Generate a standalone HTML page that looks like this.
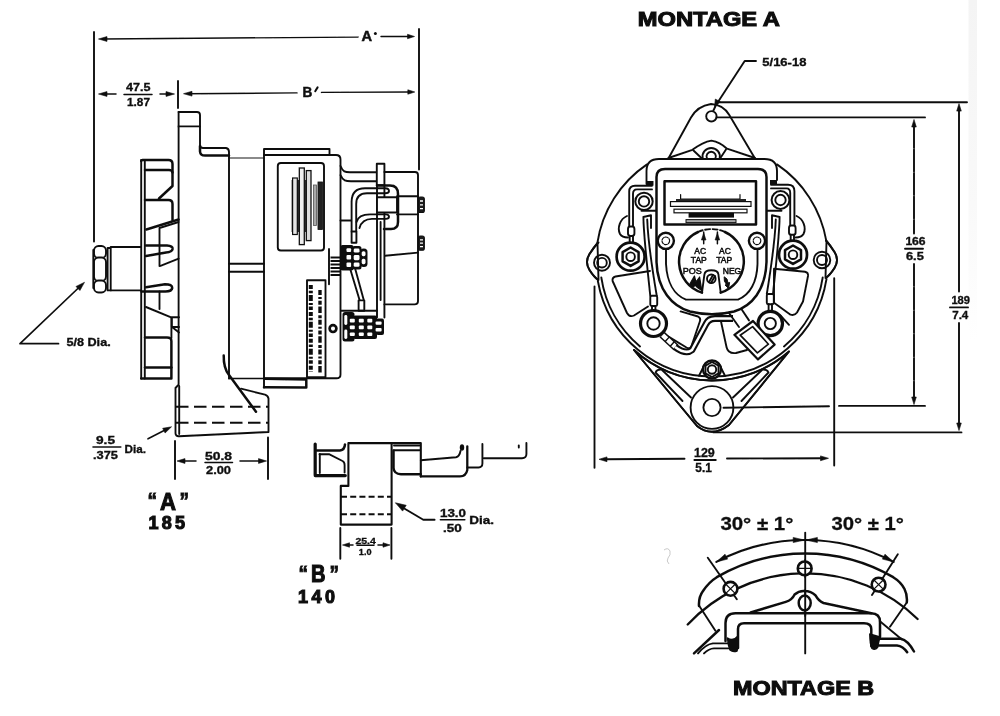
<!DOCTYPE html>
<html>
<head>
<meta charset="utf-8">
<title>Alternator mounting dimensions</title>
<style>
html,body{margin:0;padding:0;background:#fff;}
body{width:1000px;height:716px;overflow:hidden;font-family:"Liberation Sans",sans-serif;}
svg{display:block;position:absolute;left:0;top:0;}
svg text{font-family:"Liberation Sans",sans-serif;fill:#111;}
.l{fill:none;stroke:#111;stroke-width:1.9;stroke-linecap:round;stroke-linejoin:round;}
.t{fill:none;stroke:#111;stroke-width:1.2;stroke-linecap:round;stroke-linejoin:round;}
.h{fill:none;stroke:#111;stroke-width:2.5;stroke-linecap:round;stroke-linejoin:round;}
.w{fill:#fff;stroke:#111;stroke-width:1.9;stroke-linejoin:round;}
.k{fill:#111;stroke:#111;stroke-width:0.6;stroke-linejoin:round;}
.d{fill:none;stroke:#111;stroke-width:1.9;stroke-dasharray:7 3.5;}
.a{fill:none;stroke:#111;stroke-width:1.45;stroke-linecap:round;}
.b{font-weight:bold;}
</style>
</head>
<body>
<svg width="1000" height="716" viewBox="0 0 1000 716">
<rect x="0" y="0" width="1000" height="716" fill="#fff"/>
<defs><filter id="soft" filterUnits="userSpaceOnUse" x="0" y="0" width="1000" height="716"><feGaussianBlur stdDeviation="0.45"/></filter><linearGradient id="sg" x1="0" y1="0" x2="0" y2="1"><stop offset="0" stop-color="#f4f4f4"/><stop offset="0.6" stop-color="#f9f9f9"/><stop offset="1" stop-color="#ffffff"/></linearGradient></defs>
<rect x="968.5" y="0" width="8.5" height="340" fill="url(#sg)"/>

<!-- ================= TEXT LABELS ================= -->
<g filter="url(#soft)">
<g id="labels">
<text class="b" x="637.8" y="25.9" font-size="19.3" textLength="142.2" lengthAdjust="spacingAndGlyphs" stroke="#111" stroke-width="1.00">MONTAGE A</text>
<text class="b" x="733.0" y="695.4" font-size="19.3" textLength="141.2" lengthAdjust="spacingAndGlyphs" stroke="#111" stroke-width="1.00">MONTAGE B</text>
<text class="b" x="762.3" y="65.9" font-size="11.2" textLength="44.1" lengthAdjust="spacingAndGlyphs" stroke="#111" stroke-width="0.35">5/16-18</text>
<text class="b" x="66.4" y="346.3" font-size="11.2" textLength="44.3" lengthAdjust="spacingAndGlyphs" stroke="#111" stroke-width="0.35">5/8 Dia.</text>
<text class="b" x="361.4" y="40.7" font-size="14" textLength="10.6" lengthAdjust="spacingAndGlyphs" stroke="#111" stroke-width="0.5">A</text><circle cx="375.4" cy="33.4" r="1.5" fill="#111"/>
<text class="b" x="302.6" y="97.4" font-size="14" textLength="9.8" lengthAdjust="spacingAndGlyphs" stroke="#111" stroke-width="0.5">B</text><path d="M317.6 87.4L315.2 91.2" stroke="#111" stroke-width="2" stroke-linecap="round"/>
<text class="b" x="126.0" y="90.5" font-size="11.6" textLength="24.5" lengthAdjust="spacingAndGlyphs" stroke="#111" stroke-width="0.35">47.5</text>
<text class="b" x="127.0" y="105.5" font-size="11.2" textLength="23.0" lengthAdjust="spacingAndGlyphs" stroke="#111" stroke-width="0.35">1.87</text>
<text class="b" x="205.0" y="459.5" font-size="10.6" textLength="27.0" lengthAdjust="spacingAndGlyphs" stroke="#111" stroke-width="0.35">50.8</text>
<text class="b" x="206.0" y="474.4" font-size="10.8" textLength="25.0" lengthAdjust="spacingAndGlyphs" stroke="#111" stroke-width="0.35">2.00</text>
<text class="b" x="96.0" y="444.2" font-size="10.2" textLength="19.0" lengthAdjust="spacingAndGlyphs" stroke="#111" stroke-width="0.35">9.5</text>
<text class="b" x="93.0" y="459.0" font-size="10.8" textLength="25.0" lengthAdjust="spacingAndGlyphs" stroke="#111" stroke-width="0.35">.375</text>
<text class="b" x="124.6" y="452.6" font-size="11.0" textLength="21.4" lengthAdjust="spacingAndGlyphs" stroke="#111" stroke-width="0.35">Dia.</text>
<text class="b" x="440.0" y="517.0" font-size="10.6" textLength="26.0" lengthAdjust="spacingAndGlyphs" stroke="#111" stroke-width="0.35">13.0</text>
<text class="b" x="443.0" y="531.5" font-size="10.4" textLength="18.7" lengthAdjust="spacingAndGlyphs" stroke="#111" stroke-width="0.35">.50</text>
<text class="b" x="469.3" y="524.2" font-size="11.0" textLength="24.7" lengthAdjust="spacingAndGlyphs" stroke="#111" stroke-width="0.35">Dia.</text>
<text class="b" x="355.4" y="543.5" font-size="8.6" textLength="20.4" lengthAdjust="spacingAndGlyphs" stroke="#111" stroke-width="0.30">25.4</text>
<text class="b" x="358.8" y="555.4" font-size="9.0" textLength="12.7" lengthAdjust="spacingAndGlyphs" stroke="#111" stroke-width="0.30">1.0</text>
<text class="b" x="694.0" y="456.5" font-size="12.0" textLength="20.8" lengthAdjust="spacingAndGlyphs" stroke="#111" stroke-width="0.35">129</text>
<text class="b" x="695.3" y="471.8" font-size="12.0" textLength="16.5" lengthAdjust="spacingAndGlyphs" stroke="#111" stroke-width="0.35">5.1</text>
<text class="b" x="905.4" y="245.0" font-size="11.0" textLength="20.2" lengthAdjust="spacingAndGlyphs" stroke="#111" stroke-width="0.35">166</text>
<text class="b" x="906.0" y="259.6" font-size="11.0" textLength="17.8" lengthAdjust="spacingAndGlyphs" stroke="#111" stroke-width="0.35">6.5</text>
<text class="b" x="951.4" y="303.6" font-size="11.0" textLength="18.6" lengthAdjust="spacingAndGlyphs" stroke="#111" stroke-width="0.35">189</text>
<text class="b" x="952.2" y="319.0" font-size="11.0" textLength="16.1" lengthAdjust="spacingAndGlyphs" stroke="#111" stroke-width="0.35">7.4</text>
<text class="b" x="147.5" y="508.0" font-size="22.0" textLength="9.5" lengthAdjust="spacingAndGlyphs" stroke="#111" stroke-width="0.9">“</text>
<text class="b" x="179.5" y="508.0" font-size="22.0" textLength="9.5" lengthAdjust="spacingAndGlyphs" stroke="#111" stroke-width="0.9">”</text>
<text class="b" x="160.0" y="509.5" font-size="24.0" textLength="16.0" lengthAdjust="spacingAndGlyphs" stroke="#111" stroke-width="1.10">A</text>
<text class="b" x="148.5" y="529.0" font-size="18.0" textLength="36.5" lengthAdjust="spacing" stroke="#111" stroke-width="1.10">185</text>
<text class="b" x="298.5" y="580.5" font-size="22.0" textLength="9.5" lengthAdjust="spacingAndGlyphs" stroke="#111" stroke-width="0.9">“</text>
<text class="b" x="329.5" y="580.5" font-size="22.0" textLength="9.5" lengthAdjust="spacingAndGlyphs" stroke="#111" stroke-width="0.9">”</text>
<text class="b" x="311.0" y="581.5" font-size="23.5" textLength="14.5" lengthAdjust="spacingAndGlyphs" stroke="#111" stroke-width="1.10">B</text>
<text class="b" x="298.0" y="602.5" font-size="18.0" textLength="37.0" lengthAdjust="spacing" stroke="#111" stroke-width="1.10">140</text>
<text class="b" x="720.4" y="529.7" font-size="18.4" textLength="73.0" lengthAdjust="spacingAndGlyphs" stroke="#111" stroke-width="0.30">30° ± 1°</text>
<text class="b" x="831.4" y="529.6" font-size="18.4" textLength="72.4" lengthAdjust="spacingAndGlyphs" stroke="#111" stroke-width="0.30">30° ± 1°</text>
</g>

<!-- ================= DIMENSION LINES (LEFT) ================= -->
<g id="dimsL">
<path class="l" d="M94 32V241.5"/>
<path class="l" d="M419 29V169.5"/>
<path class="l" d="M178 81V108"/>
<path class="a" d="M103 39L358 37.1M381 36.5H410"/>
<polygon class="k" points="98.5,39.0 107.0,36.6 107.0,41.4"/><polygon class="k" points="414.5,36.5 407.5,38.7 407.5,34.3"/>
<path class="a" d="M103 94H116M160 94H170"/><path class="l" d="M124 94.5H152" style="stroke-width:1.5"/>
<polygon class="k" points="98.5,94.0 107.0,91.6 107.0,96.4"/><polygon class="k" points="174.5,94.0 166.0,96.4 166.0,91.6"/>
<path class="a" d="M188 93.7L297 92.9M321.5 92.4L410 92"/>
<polygon class="k" points="183.5,93.7 192.0,91.3 192.0,96.1"/><polygon class="k" points="414.8,92.0 407.8,94.2 407.8,89.8"/>
<path class="l" d="M58.5 343.7H20L81 285.5" style="stroke-width:1.7"/>
<polygon class="k" points="84.5,282.3 79.9,290.5 76.0,286.5"/>
<path class="l" d="M93 447H120.8" style="stroke-width:1.5"/><path class="l" d="M148 438.8L167 429" style="stroke-width:1.6"/>
<polygon class="k" points="171.5,426.8 165.1,433.0 162.7,428.3"/>
<path class="l" d="M175 441V479M268 437.5V479"/><path class="a" d="M181 461H196M240 461H262"/><path class="l" d="M205 462.5H232.5" style="stroke-width:1.5"/>
<polygon class="k" points="177.0,461.0 185.0,458.6 185.0,463.4"/><polygon class="k" points="266.5,461.0 258.5,463.4 258.5,458.6"/>
<path class="l" d="M340.3 528V558.8M391.4 528V558.8"/><path class="a" d="M347 545H353M378 545H386M357 545.3H374" />
<polygon class="k" points="342.5,545.0 349.5,542.8 349.5,547.2"/><polygon class="k" points="390.0,545.0 383.0,547.2 383.0,542.8"/>
<path class="l" d="M440.4 519.8H464.8" style="stroke-width:1.5"/><path class="l" d="M434.6 519.8H423.3L400 506"/>
<polygon class="k" points="395.4,502.8 406.2,505.3 402.6,511.1"/>

</g>

<!-- ================= SIDE VIEW ================= -->
<g id="side">
<!-- nut, washer, shaft -->
<rect class="w" x="94" y="246" width="12" height="12" rx="4.5"/>
<rect class="w" x="94" y="257.5" width="12" height="23.5" rx="4.5"/>
<rect class="w" x="94" y="280.5" width="12" height="12" rx="4.5"/>
<path class="l" d="M93.3 250V288"/>
<rect class="w" x="107.6" y="248" width="3.1" height="42.4"/>
<path class="l" d="M110.7 247H141M110.7 290.4H141"/>
<!-- fan -->
<path class="h" d="M141.2 161Q141.2 160 142.5 160H168.5Q172.5 160 172.5 164V186L159 198.5"/>
<path class="l" d="M141.2 160V378.5M144.8 160V378.5"/>
<path class="h" d="M145 170H169Q172 170 172.5 172.5"/>
<path class="h" d="M145 200H168.5Q172.5 200 172.5 204V220"/>
<path class="h" d="M178.6 219.5L146.4 229.5"/>
<path class="l" d="M178.6 222L159.5 228V266M159.5 291.4V309"/>
<path class="h" d="M146 245.6H167Q173 246 172.6 249Q172 252 166 252.6L146 256"/>
<path class="l" d="M178.6 258.7L160.5 265.8"/>
<path class="h" d="M146 287.3L165 284.3Q172.5 284.3 172.2 288Q171.8 291.6 165 291.5H141.5"/>
<path class="l" d="M146 307L170.5 317.2H179M171.8 317.2V327H179M172 327L179 332.5"/>
<path class="h" d="M145 337.4H167Q171.4 337.4 171.4 341V378.5H141.2"/>
<path class="l" d="M171.4 318V338"/>
<path class="h" d="M145 367.5H171.4"/>
<!-- housing front flange -->
<path class="l" d="M178.6 112V384.6L175.5 388V433Q175.5 436.4 179 436.2L268.5 432V398.6Q268 395.5 265 394.6L241 388.7"/>
<path class="l" d="M178.6 112H197Q200 112 200 115V145Q200 148 203 148H226Q229 148.5 229 152V378.5"/>
<path class="l" d="M178.6 126.4H200M179.2 386V434"/>
<path class="h" d="M200 146V151.5Q200.3 155.6 205 155.6H229"/>
<path class="t" d="M229 158H264"/>
<path class="l" d="M229 263.7H264M229 271.8H264"/>
<path class="h" d="M223.7 355.4Q223.5 368 229 375L256 411.7"/>
<path class="l" d="M229 378.5H264" style="stroke-width:1.6"/>
<path class="d" d="M176 406.7H268M176 422.8H268" style="stroke-dasharray:12.5 5.5"/>
<!-- regulator box -->
<path class="l" d="M264 387.5V149H329.5V155"/>
<path class="l" d="M264 155H336Q340.5 155 340.5 159.5V374.5Q340.5 378.3 336.5 378.3H264"/>
<path class="h" d="M265 378.8L306.3 379.5V387.6L264 387.3"/>
<rect class="l" x="277.8" y="163" width="46.2" height="87.5" rx="3"/>
<!-- bars on plate -->
<rect x="291.6" y="180" width="15" height="52" fill="#333"/>
<rect x="292.6" y="178" width="4.7" height="56.5" fill="#e4e4e4" stroke="#111" stroke-width="1.2"/>
<rect x="299.3" y="168" width="5" height="76.6" fill="#eee" stroke="#111" stroke-width="1.3"/>
<rect x="306.3" y="170.6" width="4.7" height="70" fill="#ddd" stroke="#111" stroke-width="1.3"/>
<rect x="313.4" y="185" width="3" height="40.5" fill="#aaa" stroke="#555" stroke-width="0.8"/>
<rect x="318" y="182" width="4.4" height="47.5" fill="#222" stroke="#111" stroke-width="0.8"/>
<!-- label plate -->
<rect class="l" x="307" y="280.3" width="18.5" height="97"/>
<path d="M310.8 285V372" stroke="#111" stroke-width="4" stroke-dasharray="4 1.8 2.5 1.6 6 2 2 1.6 3.5 1.9" fill="none"/>
<path d="M320 290V374" stroke="#111" stroke-width="3.4" stroke-dasharray="5 2 2 1.7 4 1.8 6.5 2.2 3 1.6" fill="none"/>
<circle cx="333" cy="328.6" r="3.4" fill="#fff" stroke="#111" stroke-width="2.7"/>
<!-- stud & thread -->
<path class="l" d="M329 249V284.3"/>
<path d="M330.5 257.5H341M330.5 261H341M330.5 264.5H341M330.5 268H341M330.5 271.5H341M330.5 275H341" stroke="#111" stroke-width="2.1" fill="none"/>
<!-- upper tube and post -->
<path class="l" d="M340.5 166C343 172 345 172.2 350 172.2H377M340.5 175.2C343 181 346 181.2 351 181.2H377"/>
<rect class="w" x="376.8" y="163.7" width="7.6" height="21.5"/>
<path class="l" d="M384.4 172H415Q418 172 418 175V301Q418 304.4 414.5 304.4H384.4"/>
<path class="l" d="M377 185V317.5M380.6 222V300M384.4 185V317.5"/>
<!-- clamp + elbows -->
<path class="h" d="M377 185.5H390Q398 185.5 398 194V222Q398 229 391 229H384"/>
<path class="l" d="M351.6 231.5V202Q351.6 188.3 365 188.3H385Q389 188.5 389 191Q389 193.3 385 193.3H367Q356.2 193.3 356.2 204V231.5"/>
<path class="l" d="M356.5 222Q358.5 214.4 370 214.4H386Q389 214.6 389 216.8Q389 218.9 386 218.9H372Q362 219 359.5 228"/>
<rect class="w" x="377" y="197.3" width="20" height="15.2"/>
<path class="l" d="M397 196.3H418M397 214.4H418"/>
<rect x="418.3" y="197" width="6" height="15.5" rx="2" fill="#1a1a1a" stroke="#111" stroke-width="1.2"/>
<path d="M420 201H423M420 204.8H423M420 208.6H423" stroke="#fff" stroke-width="1.3" fill="none"/>
<rect x="418.3" y="236" width="6" height="14.2" rx="2" fill="#1a1a1a" stroke="#111" stroke-width="1.2"/>
<path d="M420 239.8H423M420 243.2H423M420 246.6H423" stroke="#fff" stroke-width="1.3" fill="none"/>
<path class="l" d="M418 252.6L385 255.7"/>
<path class="l" d="M340.5 220.5H351"/>
<rect class="w" x="351.6" y="231.5" width="4.8" height="11.3"/>
<!-- nut cluster 1 -->
<rect x="340.5" y="245" width="13" height="25.5" rx="2" fill="#111"/>
<rect x="352" y="246" width="9.5" height="23.5" rx="2.5" fill="#111"/>
<rect x="360" y="248.5" width="7.5" height="18.5" rx="3.5" fill="#111"/>
<g fill="#fff">
<rect x="346.5" y="248.3" width="4.6" height="3.6" rx="1"/><rect x="346.5" y="255" width="4.6" height="4.6" rx="1"/><rect x="346.5" y="262.6" width="4.6" height="4.4" rx="1"/>
<rect x="353.7" y="248.6" width="5.8" height="4" rx="1.4"/><rect x="353.7" y="255" width="5.8" height="5.2" rx="1.4"/><rect x="353.7" y="262.4" width="5.8" height="4.4" rx="1.4"/>
<rect x="361.7" y="251.2" width="3.8" height="5" rx="1.6"/><rect x="361.7" y="258.8" width="3.8" height="5.4" rx="1.6"/>
</g>
<path class="l" d="M350.6 270.2L359.7 300.4M355.4 269.6L363.6 299.6"/>
<rect class="w" x="358.6" y="300.4" width="5.7" height="10.4"/>
<!-- nut cluster 2 -->
<path class="l" d="M341 310.7H377"/>
<rect x="342.5" y="312" width="12" height="29.5" rx="2.5" fill="#111"/>
<rect x="353" y="315.5" width="24" height="23.5" rx="2" fill="#111"/>
<rect x="376" y="318.5" width="8" height="16.5" rx="2" fill="#111"/>
<g fill="#fff">
<rect x="344.3" y="315" width="3" height="10" rx="1.4"/><rect x="344.3" y="329.5" width="3" height="9.5" rx="1.4"/>
<rect x="349.8" y="318.8" width="5" height="3.6" rx="1"/><rect x="349.8" y="325.5" width="5" height="3.8" rx="1"/><rect x="349.8" y="332.5" width="5" height="3.4" rx="1"/>
<rect x="358.8" y="318.8" width="5" height="3.6" rx="1"/><rect x="358.8" y="325.5" width="5" height="3.8" rx="1"/><rect x="358.8" y="332.5" width="5" height="3.4" rx="1"/>
<rect x="367.3" y="318.8" width="5" height="3.6" rx="1"/><rect x="367.3" y="325.5" width="5" height="3.8" rx="1"/><rect x="367.3" y="332.5" width="5" height="3.4" rx="1"/>
<rect x="375.6" y="321.4" width="6" height="3.4" rx="1"/><rect x="375.6" y="328" width="6" height="3.6" rx="1"/>
</g>

</g>

<!-- ================= FOOT B ================= -->
<g id="footB">
<!-- left bracket -->
<path d="M315.2 444V475.6H345.3" fill="none" stroke="#111" stroke-width="3.2" stroke-linejoin="round" stroke-linecap="round"/>
<path class="h" d="M317 450.6H340Q344.6 450 345 444.4"/>
<path class="l" d="M319.5 454.2H329L342.5 461Q344.6 462 344.6 465V472.5"/>
<path class="l" d="M319.8 454V473"/>
<!-- main block -->
<path class="l" d="M348.4 443.1H420.8V476.6M348.4 443.1V485.9H340.8V524.6H391.6V443.1" style="stroke-width:2.1"/>
<path class="d" d="M341 496.7H391.5M341 514.3H391.5" style="stroke-dasharray:6 3.2"/>
<!-- right inner -->
<path class="l" d="M394 445.5H419.5M394 450.3H420"/>
<path class="h" d="M393.5 450.5V468Q394 474 401 474.3H420.8"/>
<path class="h" d="M420.8 476.4H460Q466 476.4 467.3 470V446.4" style="stroke-width:2.3"/>
<path class="l" d="M420.8 460.2L456 457.2Q459.5 456.5 460.5 451"/>
<ellipse cx="462" cy="447.5" rx="2.2" ry="3.3" fill="#111"/>
<path class="l" d="M467.3 467.5H478.5Q482.4 467.3 482.4 463.5V444"/>
<path class="l" d="M483.7 458.2H522Q526.4 458.2 526.4 454V443"/>
<path class="l" d="M518.8 445.5V447.5"/>

</g>

<!-- ================= FRONT VIEW ================= -->
<g id="front">
<!-- housing outer circle + rim -->
<path class="l" d="M777 164.4A116 116 0 0 1 826.35 241M826.5 279A116 116 0 0 1 597.83 281M597.33 243A116 116 0 0 1 647 164.4"/>
<path class="l" d="M601.3 277.5A112 112 0 0 0 640 346.5M822.7 277.5A112 112 0 0 1 784 346.5"/>
<!-- side ears -->
<path class="w" d="M597.5 243Q594 247 589.5 254Q584.5 262 589.5 270Q594 277 598.5 280Z" stroke="none"/>
<path class="l" d="M598.5 242.5Q594 247 589.5 254Q584.5 262 589.5 270Q594 277 598 280"/>
<circle class="l" cx="602" cy="262.7" r="8"/><circle class="l" cx="602" cy="262.7" r="4.8"/>
<path class="w" d="M826.5 241Q830 245 834.5 252Q839.5 260 834.5 268Q830 275 825.5 278Z" stroke="none"/>
<path class="l" d="M826 240.5Q830 245 834.5 252Q839.5 260 834.5 268Q830 275 826 278"/>
<circle class="l" cx="822" cy="260" r="8.3"/><circle class="l" cx="822" cy="260" r="5"/>
<!-- top ear -->

<path class="l" d="M668.4 158.5L691 117.5Q697.5 106 711 104Q723 104.5 729.3 115L755 158.5"/>
<circle class="l" cx="711.4" cy="116.3" r="5.2"/>
<path class="l" d="M668.4 158L692.4 149.8Q703 142 711.4 140.6Q720 142 727 148.7L755 158"/>
<path class="l" d="M702.7 158.5A8.7 8.7 0 1 1 719.7 158.5M707 158.5A4.7 4.7 0 1 1 715.4 158.5"/>
<path class="l" d="M693.5 150.5L701.4 158M726 149.5L720.4 158"/>
<!-- bottom mount -->
<path class="w" d="M634 350L697 426Q712 438 729 425L789 351.5A116 116 0 0 1 634 350Z" stroke="none"/>
<path class="l" d="M634 350L697 426Q712 438 729 425L789 351.5A116 116 0 0 1 634 350"/>
<path class="l" d="M655.5 372.5Q657 369 661.5 369.5L691 397.5M655.5 372.5L682.5 401"/>
<path class="l" d="M768.5 372.5Q767 369 762.5 369.5L733 397.5M768.5 372.5L741.5 401"/>
<circle class="w" cx="712" cy="407.5" r="21.4"/>
<circle class="l" cx="712" cy="407.5" r="8.6"/>
<!-- bottom boss -->
<path class="l" d="M699 375.8L705 364M725 375.8L719 364"/>
<circle class="w" cx="712" cy="369.5" r="9" style="stroke-width:2.4"/>
<path class="l" d="M712 362L718.5 365.7V373.3L712 377L705.5 373.3V365.7Z"/>
<circle class="l" cx="712" cy="369.5" r="4.2"/>
<!-- stator windows -->
<path class="l" d="M612.6 281Q612 277.5 615.5 276.5L650 271M648 306.5L634 315.5Q629.5 317.5 627 313L612.6 281"/>
<path class="l" d="M774 302.8V268.8L805 271.7Q808.5 272.5 808 276L803 301.5L797 312.5Q794.5 316 790.5 314.7L774 302.8"/>
<path class="l" d="M680.6 311.4L698 316.5Q701 318 700 321L691.5 346Q690 349.5 686.5 347.5L668.5 336.6"/>
<path class="l" d="M721 321.5L726.5 347Q728 354 736 353L747 350"/>
<!-- regulator cap -->
<path class="l" d="M646.5 184V171Q646.5 159 659 159H764.5Q777 159 777 171V180"/>
<rect x="646.5" y="181" width="7" height="4.6" fill="#111"/><rect x="770" y="180" width="7" height="4.6" fill="#111"/>

<!-- outer U -->
<path class="h" d="M656.5 262V177Q656.5 169 665 169H758Q766.5 169 766.5 177V262C765.5 290 752 306 734 311.5Q712 317 690 311.5C672 306 657.5 290 656.5 262"/>
<path class="l" d="M641.5 210.8H656M767 210.8H781.5"/>
<!-- inner U -->
<path class="l" d="M666 249V264C667 282 674 295 686 299.6H738C750 295 757 282 757.5 264V249"/>
<!-- terminal circle -->
<path class="h" d="M702 292.6A32.5 32.5 0 0 1 698 232M725 232A32.5 32.5 0 0 1 720.7 292.6"/>
<path class="l" d="M698 232A32.5 32.5 0 0 1 725 232" style="stroke-dasharray:5 2.5"/>
<path class="l" d="M702 292.6L704.4 274.5Q705 270.3 711.3 270.3Q718 270.3 718.4 274.5L720.7 292.6"/>
<circle class="l" cx="711.3" cy="278.8" r="4.3"/>
<path class="l" d="M709 282L713 275M711 283L715 276"/>
<path class="t" d="M703.7 232V243.8M717.4 232V243.8" style="stroke-width:1.5"/>
<path class="k" d="M703.7 233L706 240H701.4ZM717.4 233L719.7 240H715.1Z"/>
<path class="k" d="M689.6 284.5L694.4 276L696 282L699.6 277L701.8 290.5L697.4 287.5L695.6 285.5L692.6 287Z" style="stroke-width:1.2"/>
<path class="k" d="M724.2 276.8L727 279L728 283L729.6 282.4L728.6 288.5L725 285L726.4 284.4L724.4 281Z" style="stroke-width:1"/>
<g font-size="8.5" text-anchor="middle" style="font-weight:normal" stroke="#111" stroke-width="0.5">
<text x="700.2" y="254">AC</text><text x="698.8" y="263">TAP</text>
<text x="725" y="254">AC</text><text x="724.2" y="263">TAP</text>
<text x="692.3" y="274" textLength="19" lengthAdjust="spacingAndGlyphs">POS</text><text x="732" y="274" textLength="18.5" lengthAdjust="spacingAndGlyphs">NEG</text>
</g>
<!-- nameplate -->
<rect class="h" x="664.5" y="181.2" width="91.5" height="43.3"/>
<path class="t" d="M680.6 194.5V199H740V194.5"/>
<rect x="676" y="199" width="70" height="3.2" fill="#222"/>
<rect x="670.5" y="201.6" width="80.5" height="4.8" fill="#fff" stroke="#111" stroke-width="1.2"/>
<rect x="674" y="209.2" width="73" height="3.6" fill="#fff" stroke="#111" stroke-width="1.2"/>
<rect x="688.6" y="212.8" width="45.4" height="4.8" fill="#111"/>
<rect x="686" y="219.6" width="50" height="3" fill="#aaa" stroke="#111" stroke-width="1"/>
<!-- small screws -->
<circle class="w" cx="665.8" cy="240.8" r="8.1" style="stroke-width:2.4"/><circle class="t" cx="665.8" cy="240.8" r="3.8" style="stroke-dasharray:3 1.2"/>
<circle class="w" cx="757" cy="240.8" r="8.1" style="stroke-width:2.4"/><circle class="t" cx="757" cy="240.8" r="3.8" style="stroke-dasharray:3 1.2"/>
<!-- top terminals -->
<circle class="w" cx="644" cy="201.4" r="8.7" style="stroke-width:2"/><circle class="l" cx="644" cy="201.4" r="5.2"/>
<circle class="w" cx="780.5" cy="200" r="8.9" style="stroke-width:2"/><circle class="l" cx="780.5" cy="200" r="5.2"/>
<!-- wires from top terminals -->
<path class="l" d="M652 185.7H635Q629.2 185.7 629.2 191.5V226.5M652 189.4H637Q633 189.4 633 194V226.5"/>
<path class="l" d="M771 184.7H788Q794.4 184.7 794.4 191V225.5M771 188.4H786.5Q790.2 188.4 790.2 193V225.5"/>
<rect class="w" x="628" y="226.5" width="6.4" height="9.5" rx="2.4"/>
<path class="l" d="M629.7 236V245M633 236V245"/>
<rect class="w" x="789" y="225.5" width="6.6" height="9.3" rx="2.4"/>
<path class="l" d="M790.7 235V243M794 235V243"/>
<path class="l" d="M627 216C620 219 617 228 620 234Q622 237.5 628 237.5M796.5 216C803.5 219 806.5 228 803.5 234Q801.5 237.5 795.5 237.5"/>
<!-- studs -->
<circle class="w" cx="630.6" cy="256.7" r="14" style="stroke-width:2.7"/>
<path class="h" d="M630.6 247.5L638.6 252.1V261.3L630.6 265.9L622.6 261.3V252.1Z"/>
<circle class="l" cx="630.6" cy="256.7" r="4.3"/>
<circle class="w" cx="793" cy="254.7" r="14" style="stroke-width:2.7"/>
<path class="h" d="M793 245.5L801 250.1V259.3L793 263.9L785 259.3V250.1Z"/>
<circle class="l" cx="793" cy="254.7" r="4.3"/>
<!-- wires down to lower studs -->
<path class="l" d="M643.4 217L651 215.3V228M643.4 217C643.6 235 646 255 650.3 296M647.2 219.5C648 240 651 262 656.8 296"/>
<path class="l" d="M779.6 217L772 215.3V228M779.6 217C779.4 235 777 255 773 294M775.8 219.5C775 240 772 262 766.8 294"/>
<rect class="w" x="650.3" y="295.8" width="6.9" height="10.2" rx="1.5"/>
<path class="l" d="M652 306V311M655.4 306V311"/>
<rect class="w" x="766.8" y="294" width="7" height="10.2" rx="1.5"/>
<path class="l" d="M768.6 304V311M772 304V311"/>
<circle class="w" cx="653.5" cy="323.5" r="13" style="stroke-width:3.2"/><circle class="l" cx="653.5" cy="323.5" r="6.2"/>
<circle class="w" cx="770.3" cy="323.5" r="12.2" style="stroke-width:3.2"/><circle class="l" cx="770.3" cy="323.5" r="5.6"/>
<!-- lug + tube from lower-left stud to capacitor -->
<path d="M662 334.5L676 347.5" stroke="#111" stroke-width="7.5" fill="none"/>
<path d="M662.6 335.1L675.4 346.9" stroke="#fff" stroke-width="4.6" stroke-dasharray="5.5 1.4" fill="none"/>
<path d="M675 347Q686 355 692 350L706 324Q708.5 318.5 715 318.5H733" stroke="#111" stroke-width="6.8" fill="none" stroke-linejoin="round"/>
<path d="M675 347Q686 355 692 350L706 324Q708.5 318.5 715 318.5H733" stroke="#fff" stroke-width="2.6" fill="none" stroke-linejoin="round"/>
<!-- strap + capacitor box -->
<path class="l" d="M728.8 312.8L739 327M741.4 309L749 320.4"/>
<path class="w" d="M734.4 334.8L753 321L774.6 344.6L758 359.4Z" style="stroke-width:2.2"/>
<path class="l" d="M740.2 335.2L752.6 326.6L768.4 344.2L757.4 352.8Z" style="stroke-width:1.7"/>
<path class="l" d="M780.4 315.3L789 324.8"/>

</g>

<!-- ================= DIMENSION LINES (RIGHT) ================= -->
<g id="dimsR">
<!-- leader 5/16-18 -->
<path class="l" d="M756 61H744.7L716 105L713.2 111"/>
<polygon class="k" points="714.6,106.6 715.3,99.1 720.4,101.8"/>
<!-- horizontal extension lines -->
<path class="l" d="M718 102.2H967M716.5 117.4H925"/>
<path class="l" d="M723.5 407.8L829 406.2M839 405.9H925M713.5 432.4H961.5"/>
<!-- 166 -->
<path class="l" d="M914 126V233.5M914 264V398M905 248.8H923" style="stroke-dasharray:22 1.5"/>
<polygon class="k" points="914.0,119.5 916.3,127.0 911.7,127.0"/><polygon class="k" points="914.0,404.5 911.7,397.0 916.3,397.0"/>
<!-- 189 -->
<path class="l" d="M959 110V291.5M959 323V423M950 307.4H968"/>
<polygon class="k" points="959.0,103.6 961.3,111.1 956.7,111.1"/><polygon class="k" points="959.0,430.5 956.7,423.0 961.3,423.0"/>
<!-- 129 -->
<path class="l" d="M594.5 286.5V467.8M834.2 278.3V465.5"/>
<path class="l" d="M605 459.3L684.5 458.7M727 458.5L822 458.3M694.4 460H715.8"/>
<polygon class="k" points="599.0,459.3 607.0,456.9 607.0,461.7"/><polygon class="k" points="828.5,458.3 820.5,460.7 820.5,455.9"/>

</g>

<!-- ================= MONTAGE B ================= -->
<g id="montB">
<path d="M664 550q4 -3 6 1q1 4 -2 7q-2 3 1 6" fill="none" stroke="#bbb" stroke-width="0.8"/>
<!-- centre line -->
<path class="l" d="M805.2 532.7V653.4"/>
<!-- dim arc -->
<path class="l" d="M716.4 561.9A190 190 0 0 1 893.6 561.9" style="stroke-width:2.1"/>
<polygon class="k" points="804.2,540.0 793.2,542.6 793.2,537.4"/><polygon class="k" points="806.4,540.0 817.4,537.4 817.4,542.6"/>
<polygon class="k" points="716.6,561.8 725.0,554.2 727.6,559.1"/><polygon class="k" points="893.4,561.8 882.4,559.1 885.0,554.2"/>
<!-- radial lines -->
<path class="l" d="M707.8 557.8L736.8 599.3M897.8 554.3L872 595"/>
<!-- arc 2 (outer housing) -->
<path class="h" d="M699 606Q698.5 597 703 591Q709 582 716.8 577.2A176.4 176.4 0 0 1 893.2 577.2Q901 582 904.5 589Q907.5 595 906.8 602.5"/>
<!-- arc 3 (bolt circle) -->
<path class="h" d="M687.7 624.5A161 161 0 0 1 917.6 619" style="stroke-width:2.3"/>
<path class="l" d="M699 605.6L715.4 630.8M906.8 602.5L890 626.7"/>
<!-- holes -->
<circle class="w" cx="804.7" cy="568.4" r="6.9" style="stroke-width:2.6"/>
<path class="t" d="M798 568.4H811.5"/>
<circle class="w" cx="730.5" cy="588.8" r="6.9" style="stroke-width:2.6"/>
<path class="t" d="M725.6 584L735.4 593.6M725.6 593.6L735.4 584"/>
<circle class="w" cx="878.6" cy="584.6" r="6.9" style="stroke-width:2.6"/>
<path class="t" d="M873.7 579.8L883.5 589.4M873.7 589.4L883.5 579.8"/>
<path class="l" d="M805.2 560V577"/>
<!-- boss -->
<path class="h" d="M750.6 612.5L785.8 601.9Q792 600 794.6 594.5Q799 590.6 804.7 591Q811 591 815.5 595.4Q819 601.5 823.5 603L871.3 613.2"/>
<ellipse class="w" cx="804.7" cy="603" rx="6" ry="7.4" style="stroke-width:2.5"/>
<path class="l" d="M805.2 590V616"/>
<!-- bracket -->
<path class="h" d="M725.5 641V623Q725.5 613.2 735.5 613.2H871Q880 613.2 880 622V637"/>
<path class="h" d="M738 648V629Q738 623.2 744 623.2H864Q871.3 623.2 871.3 629V646"/>
<path d="M727.5 638Q728 645 730 650Q733 652.5 737 651Q738.5 645 738 636Q733 642 727.5 638Z" fill="#111" stroke="#111" stroke-width="1.5" stroke-linejoin="round"/>
<path d="M869.8 634Q870 645 872 648.5Q875 650.5 877.5 647.5Q878.5 642 880 637Z" fill="#111" stroke="#111" stroke-width="1.5" stroke-linejoin="round"/>
<!-- lower left / right lines -->
<path class="h" d="M694 653.4L719 630"/>
<path class="l" d="M698 653.4Q706 644 713 643.4H729M704 653.4Q709 648.6 714 648.4H729"/>
<path class="h" d="M880 638.8H900.8Q908 640.5 914 651.5M877 645.4H897Q903 646 907.2 652.3"/>
<path class="l" d="M880.2 621.5L901.6 639.2"/>

</g>
</g>
</svg>
</body>
</html>
